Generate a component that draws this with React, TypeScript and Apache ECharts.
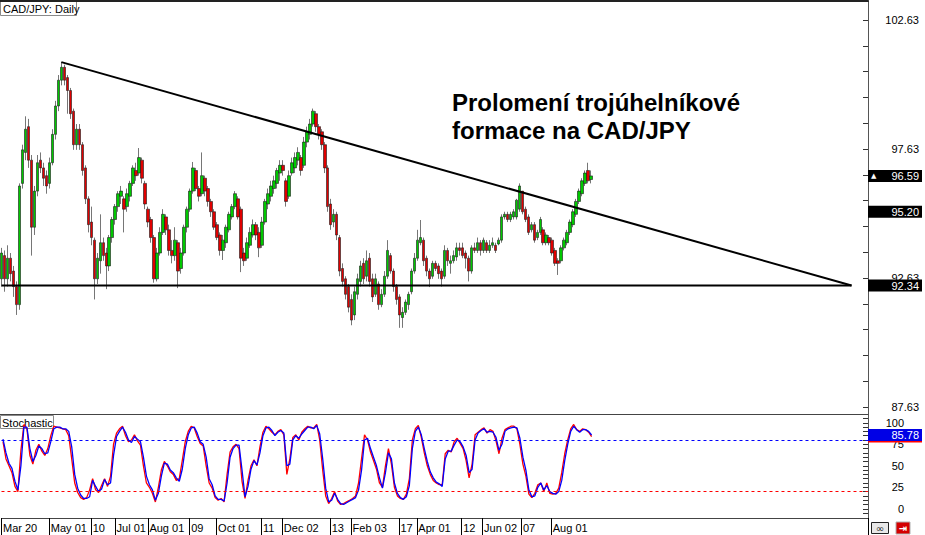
import React, { useEffect, useRef } from "react";
import * as echarts from "echarts";

// [open, close, low, high] per daily bar
const candles: [number, number, number, number][] = [
  [92.6, 93.6, 92.3, 93.8], [93.5, 92.6, 92.1, 93.7], [92.6, 93.4, 92.3, 93.9], [93.4, 92.8, 92.5, 93.6], [92.9, 92.3, 91.9, 93.1],
  [92.3, 91.6, 91.2, 92.5], [91.6, 96.2, 91.4, 96.3], [96.3, 97.6, 96.1, 97.8], [97.5, 98.4, 97.2, 98.9], [98.5, 97.2, 96.9, 98.8],
  [97.2, 94.6, 93.5, 97.4], [94.6, 96.0, 94.3, 96.2], [96.0, 97.1, 95.8, 97.4], [97.2, 96.9, 96.7, 97.5], [96.9, 96.5, 96.2, 97.1],
  [96.6, 96.2, 95.9, 96.8], [96.3, 97.1, 96.1, 97.3], [97.1, 98.2, 97.0, 98.4], [98.2, 99.3, 98.0, 99.5], [99.3, 100.3, 99.1, 100.5],
  [100.3, 100.8, 100.1, 101.0], [100.8, 100.3, 100.1, 100.9], [100.4, 99.9, 99.0, 100.5], [99.9, 99.0, 98.8, 100.0], [99.1, 97.8, 97.6, 99.2],
  [97.8, 98.4, 97.6, 98.6], [98.4, 97.8, 97.6, 98.6], [97.8, 96.8, 96.6, 97.9], [96.9, 95.7, 95.5, 97.0], [95.7, 94.7, 94.4, 95.8],
  [94.8, 94.2, 93.9, 95.4], [94.1, 92.6, 91.8, 94.2], [92.6, 93.4, 92.4, 93.6], [93.3, 94.0, 92.8, 95.1], [94.0, 93.5, 93.3, 94.2],
  [93.6, 93.1, 92.2, 93.8], [93.1, 94.2, 92.9, 94.3], [94.2, 94.9, 94.0, 95.0], [94.9, 95.4, 94.7, 95.5], [95.4, 95.9, 95.2, 96.0],
  [95.8, 96.0, 95.5, 96.2], [95.7, 95.3, 94.4, 95.8], [95.4, 95.9, 95.2, 96.1], [95.8, 96.3, 95.6, 96.4], [96.3, 96.9, 96.2, 97.0],
  [96.8, 96.6, 96.4, 97.1], [96.7, 97.3, 96.6, 97.67], [97.2, 96.5, 96.3, 97.3], [96.3, 95.5, 95.3, 96.4], [95.3, 94.8, 94.6, 95.4],
  [94.9, 94.2, 94.0, 95.0], [94.2, 92.6, 92.45, 94.3], [92.6, 93.6, 92.5, 93.8], [93.6, 94.4, 93.5, 94.6], [94.4, 95.1, 94.3, 95.3],
  [95.0, 94.5, 94.3, 95.1], [94.5, 93.7, 93.5, 94.7], [93.7, 93.5, 93.2, 94.1], [93.5, 94.1, 93.3, 94.6], [94.0, 92.9, 92.24, 94.1],
  [93.0, 93.6, 92.8, 93.8], [93.6, 94.6, 93.5, 94.7], [94.6, 95.3, 94.4, 95.4], [95.3, 96.0, 95.2, 96.1], [96.0, 96.9, 95.9, 97.13],
  [96.8, 96.1, 96.0, 96.9], [96.1, 95.8, 95.6, 96.2], [95.9, 96.6, 95.8, 97.5], [96.5, 96.0, 95.8, 96.6], [96.1, 95.6, 95.4, 96.2],
  [95.6, 95.2, 95.0, 95.7], [95.2, 94.6, 94.5, 95.3], [94.7, 94.2, 94.1, 94.8], [94.3, 93.7, 93.5, 94.4], [93.7, 94.1, 93.33, 94.3],
  [94.0, 94.6, 93.8, 94.7], [94.5, 95.1, 94.4, 95.2], [95.0, 95.4, 94.9, 95.5], [95.4, 95.9, 95.3, 96.0], [95.7, 95.0, 94.9, 95.8],
  [95.3, 93.4, 92.86, 95.4], [93.6, 93.3, 93.1, 93.8], [93.4, 94.0, 93.3, 94.2], [93.9, 94.4, 93.8, 94.6], [94.3, 94.7, 94.2, 94.9],
  [94.7, 94.3, 94.1, 94.8], [94.4, 93.8, 93.44, 94.6], [93.9, 94.8, 93.8, 95.0], [94.8, 95.6, 94.7, 95.7], [95.5, 95.9, 95.3, 96.1],
  [95.8, 96.2, 95.6, 96.4], [96.1, 96.4, 95.9, 96.6], [96.3, 96.8, 96.1, 96.9], [96.7, 97.0, 96.4, 97.2], [97.0, 96.8, 96.6, 97.2],
  [96.4, 95.6, 95.4, 96.5], [95.8, 96.6, 95.7, 96.8], [96.7, 97.1, 96.6, 97.3], [96.9, 97.3, 96.7, 97.5], [97.2, 97.5, 97.0, 97.7],
  [97.3, 96.8, 96.6, 97.4], [97.0, 97.9, 96.9, 98.1], [97.9, 98.3, 97.7, 98.5], [98.2, 98.6, 98.0, 98.8], [98.6, 99.1, 98.5, 99.2],
  [99.0, 98.5, 98.3, 99.1], [98.5, 98.2, 98.0, 98.6], [98.3, 97.8, 97.6, 98.4], [97.8, 96.9, 96.7, 97.9], [96.9, 95.4, 95.2, 97.0],
  [95.5, 94.7, 94.5, 95.7], [94.8, 95.1, 94.6, 95.3], [95.1, 94.3, 94.1, 95.2], [94.2, 92.9, 92.7, 94.3], [93.0, 92.5, 92.3, 93.2],
  [92.6, 92.0, 91.8, 92.7], [92.3, 91.5, 91.3, 92.4], [91.8, 91.0, 90.8, 92.0], [91.2, 92.1, 91.0, 92.3], [92.0, 92.6, 91.8, 92.8],
  [92.5, 93.1, 92.3, 93.3], [93.2, 92.6, 92.4, 93.4], [92.7, 93.3, 92.5, 93.7], [93.4, 92.5, 92.3, 93.6], [92.6, 91.9, 91.7, 92.8],
  [92.0, 92.6, 91.9, 92.8], [92.4, 91.6, 91.4, 92.5], [91.6, 92.0, 91.5, 92.2], [92.0, 92.7, 91.9, 92.9], [92.7, 93.7, 92.6, 94.1],
  [93.5, 92.9, 92.8, 93.6], [92.9, 92.3, 92.1, 93.0], [92.3, 91.8, 91.6, 92.4], [91.9, 91.2, 90.7, 92.0], [91.1, 91.3, 90.7, 91.5],
  [91.3, 91.7, 91.2, 91.8], [91.6, 92.0, 91.4, 92.1], [92.1, 92.9, 92.0, 93.0], [92.9, 93.4, 92.8, 93.6], [93.4, 94.1, 93.3, 94.5],
  [94.0, 94.2, 93.9, 94.88], [94.1, 93.3, 93.1, 94.2], [93.4, 92.9, 92.7, 93.5], [92.9, 92.6, 92.28, 93.0], [92.7, 93.2, 92.6, 93.3],
  [93.2, 93.0, 92.9, 93.3], [93.1, 92.8, 92.6, 93.2], [92.9, 92.6, 92.3, 93.0], [92.7, 93.7, 92.6, 93.9], [93.7, 93.3, 93.1, 93.8],
  [93.2, 93.3, 92.8, 93.5], [93.3, 93.5, 93.2, 93.7], [93.45, 93.8, 93.3, 94.0], [93.8, 93.7, 93.5, 94.0], [93.8, 93.5, 93.4, 94.0],
  [93.6, 93.4, 93.0, 93.7], [93.4, 92.9, 92.5, 93.5], [92.9, 93.8, 92.8, 93.9], [93.8, 93.7, 93.6, 94.0], [93.7, 94.0, 93.6, 94.2],
  [94.0, 93.7, 93.5, 94.1], [93.7, 94.1, 93.6, 94.2], [94.0, 93.7, 93.6, 94.1], [93.7, 93.9, 93.6, 94.1], [93.9, 94.0, 93.8, 94.2],
  [93.9, 93.7, 93.6, 94.0], [93.95, 94.1, 93.9, 94.2], [94.1, 95.0, 94.0, 95.1], [95.0, 95.1, 94.9, 95.2], [95.1, 94.9, 94.8, 95.2],
  [94.9, 95.1, 94.8, 95.2], [95.0, 95.2, 94.9, 95.3], [95.0, 95.65, 94.9, 95.7], [95.3, 96.2, 95.2, 96.3], [96.0, 95.2, 95.1, 96.0],
  [95.3, 94.9, 94.8, 95.4], [95.0, 94.4, 94.3, 95.1], [94.5, 94.7, 94.4, 94.8], [94.7, 94.1, 94.0, 94.8], [94.2, 94.4, 94.1, 94.5],
  [94.4, 94.9, 94.3, 95.0], [94.5, 94.0, 93.9, 94.6], [94.0, 94.3, 93.9, 94.4], [94.2, 94.0, 93.9, 94.3], [94.1, 93.6, 93.5, 94.2],
  [93.7, 93.2, 93.1, 93.8], [93.3, 93.2, 92.75, 93.4], [93.3, 93.8, 93.2, 93.9], [93.8, 94.1, 93.7, 94.2], [94.0, 94.4, 93.9, 94.5],
  [94.4, 94.8, 94.3, 94.9], [94.7, 95.2, 94.6, 95.3], [95.1, 95.6, 95.0, 95.7], [95.6, 96.0, 95.5, 96.1], [95.9, 96.4, 95.8, 96.5],
  [96.3, 96.7, 96.2, 96.8], [96.8, 96.4, 96.3, 97.1], [96.45, 96.59, 96.3, 96.8],
];

// Stochastic main line (red) and signal line (blue)
const stochMain = [
  78, 58, 50, 42, 26, 20, 68, 98, 93, 62,
  52, 68, 75, 67, 62, 70, 85, 96, 95, 94,
  93, 92, 85, 58, 30, 19, 13, 11, 13, 22,
  35, 22, 19, 27, 35, 26, 38, 75, 88, 93,
  96, 85, 78, 80, 86, 79, 74, 50, 30, 25,
  18, 8, 25, 45, 55, 50, 43, 40, 33, 35,
  56, 78, 90, 96, 94, 84, 76, 73, 50, 30,
  24, 13, 10, 12, 8, 40, 66, 72, 75, 70,
  32, 12, 33, 50, 57, 50, 72, 89, 96, 93,
  89, 86, 90, 92, 86, 40, 58, 83, 86, 80,
  89, 93, 96, 94, 94, 98, 80, 45, 15, 6,
  12, 20, 9, 5, 6, 8, 10, 12, 15, 30,
  58, 86, 80, 66, 56, 46, 30, 25, 50, 70,
  52, 25, 15, 12, 11, 17, 35, 80, 93, 97,
  83, 65, 50, 40, 33, 30, 28, 28, 64, 68,
  66, 78, 82, 76, 70, 56, 36, 52, 86, 89,
  92, 94, 88, 92, 90, 79, 64, 82, 92, 94,
  96, 96, 93, 75, 52, 38, 17, 13, 18, 28,
  30, 20, 30, 18, 17, 18, 24, 42, 64, 80,
  93, 98, 92, 90, 93, 92, 89, 84,
];
const stochSignal = [
  81, 65, 53, 47, 32, 22, 50, 95, 95, 70,
  55, 62, 73, 70, 64, 65, 78, 93, 95, 95,
  93, 93, 90, 72, 40, 24, 16, 12, 12, 14,
  33, 26, 20, 23, 34, 28, 30, 62, 84, 90,
  95, 89, 80, 77, 84, 81, 78, 60, 38, 28,
  22, 10, 18, 38, 53, 52, 45, 42, 36, 32,
  46, 70, 86, 94, 95, 88, 78, 75, 60, 35,
  28, 15, 11, 11, 9, 30, 60, 70, 74, 74,
  45, 14, 26, 46, 56, 51, 65, 85, 94, 95,
  91, 85, 89, 91, 88, 50, 52, 80, 85, 82,
  87, 91, 95, 95, 93, 97, 87, 58, 24, 8,
  10, 18, 11, 6, 5, 7, 9, 11, 13, 22,
  45, 80, 82, 70, 60, 50, 36, 24, 42, 65,
  58, 30, 18, 13, 11, 14, 27, 70, 90, 95,
  86, 70, 55, 43, 36, 31, 29, 26, 58, 67,
  67, 74, 80, 78, 72, 62, 42, 46, 80, 88,
  91, 93, 89, 90, 89, 83, 68, 75, 90, 93,
  94, 95, 94, 82, 60, 45, 22, 14, 15, 25,
  30, 22, 27, 20, 18, 17, 20, 33, 56, 75,
  90, 96, 92, 89, 92, 92, 90, 85.78,
];

const xLabelIndex = [0, 16, 30, 38, 49, 63, 72, 87, 94, 110, 117, 133, 139, 154, 161, 174, 184];
const xLabelText = ["Mar 20", "May 01", "10", "Jul 01", "Aug 01", "09", "Oct 01", "11", "Dec 02", "13", "Feb 03", "17", "Apr 01", "12", "Jun 02", "07", "Aug 01"];

const priceTicks = [87.63, 88.63, 89.63, 90.63, 91.63, 92.63, 93.63, 94.63, 95.63, 96.63, 97.63, 98.63, 99.63, 100.63, 101.63, 102.63];
const priceLabels = [87.63, 92.63, 97.63, 102.63];
const stochTicks = [-5, 0, 5, 10, 15, 20, 25, 30, 35, 40, 45, 50, 55, 60, 65, 70, 75, 80, 85, 90, 95, 100, 105];
const stochLabels = [0, 25, 50, 75, 100];
const stochLevels = { upper: 80, lower: 20 };

const supportLevel = 92.34;
const trendStart: [number, number] = [20, 101.0];
const trendEnd: [number, number] = [284, 92.34];
const trendAtLast = 95.2;

const CATEGORY_COUNT = 290;
const FONT = '"Liberation Sans", Arial, sans-serif';

export default function App() {
  const ref = useRef<HTMLDivElement>(null);

  useEffect(() => {
    if (!ref.current) return;
    const chart = echarts.init(ref.current, undefined, { renderer: "svg" });
    const cats = Array.from({ length: CATEGORY_COUNT }, (_, i) => String(i));
    const labelMap: Record<number, string> = {};
    xLabelIndex.forEach((idx, k) => (labelMap[idx] = xLabelText[k]));
    const isLabel = (i: number) => labelMap[i] !== undefined;
    const lastClose = candles[candles.length - 1][1];
    const lastMain = stochMain[stochMain.length - 1];
    const lastSignal = stochSignal[stochSignal.length - 1];

    const hiddenCat = (extra: any) => ({
      type: "category",
      data: cats,
      boundaryGap: true,
      axisTick: { show: false },
      axisLabel: { show: false },
      splitLine: { show: false },
      ...extra,
    });

    const boxLabel = (bg: string) => ({
      align: "right",
      margin: 54,
      width: 48,
      padding: [1, 3, 0, 3],
      backgroundColor: bg,
      color: "#fff",
      fontSize: 11,
      fontFamily: FONT,
    });

    const option: any = {
      animation: false,
      backgroundColor: "#ffffff",
      grid: [
        { left: 0, top: 1, width: 871, height: 413 },
        { left: 0, top: 414, width: 871, height: 104 },
      ],
      xAxis: [
        hiddenCat({ gridIndex: 0, position: "bottom", axisLine: { show: true, onZero: false, lineStyle: { color: "#444", width: 1 } } }),
        hiddenCat({ gridIndex: 0, position: "top", axisLine: { show: true, onZero: false, lineStyle: { color: "#222", width: 2 } } }),
        {
          type: "category",
          gridIndex: 1,
          data: cats,
          position: "bottom",
          boundaryGap: true,
          axisLine: { show: true, onZero: false, lineStyle: { color: "#444", width: 1 } },
          axisTick: { show: true, interval: (i: number) => isLabel(i), length: 17, alignWithLabel: false, lineStyle: { color: "#000" } },
          axisLabel: {
            show: true,
            interval: (i: number) => isLabel(i),
            formatter: (_v: string, i: number) => labelMap[i] || "",
            align: "left",
            margin: 4,
            fontSize: 11,
            color: "#000",
            fontFamily: FONT,
          },
          splitLine: { show: false },
        },
      ],
      yAxis: [
        {
          type: "value",
          gridIndex: 0,
          position: "right",
          min: 87.36,
          max: 103.37,
          axisLine: { show: true, lineStyle: { color: "#555" } },
          axisTick: { show: true, inside: true, length: 5, customValues: priceTicks, lineStyle: { color: "#333" } },
          axisLabel: { customValues: priceLabels, formatter: (v: number) => v.toFixed(2), align: "right", margin: 51, fontSize: 11, color: "#000", fontFamily: FONT },
          splitLine: { show: false },
        },
        {
          type: "value",
          gridIndex: 0,
          position: "right",
          min: 87.36,
          max: 103.37,
          axisLine: { show: false },
          axisTick: { show: false },
          splitLine: { show: false },
          axisLabel: {
            ...boxLabel("#000"),
            customValues: [supportLevel, trendAtLast, lastClose],
            formatter: (v: number) =>
              Math.abs(v - lastClose) < 1e-6 ? `{tri|▲}{val|${v.toFixed(2)}}` : `{val|${v.toFixed(2)}}`,
            rich: {
              tri: { color: "#fff", fontSize: 7, width: 18, align: "left", fontFamily: "DejaVu Sans" },
              val: { color: "#fff", fontSize: 11, fontFamily: FONT },
            },
          },
        },
        {
          type: "value",
          gridIndex: 1,
          position: "right",
          min: -10.7,
          max: 110.2,
          axisLine: { show: true, lineStyle: { color: "#555" } },
          axisTick: { show: true, inside: true, length: 5, customValues: stochTicks, lineStyle: { color: "#333" } },
          axisLabel: { customValues: stochLabels, formatter: (v: number) => String(v), align: "right", margin: 36, fontSize: 11, color: "#000", fontFamily: FONT },
          splitLine: { show: false },
        },
        {
          type: "value",
          gridIndex: 1,
          position: "right",
          min: -10.7,
          max: 110.2,
          axisLine: { show: false },
          axisTick: { show: false },
          splitLine: { show: false },
          axisLabel: { ...boxLabel("#ff0000"), customValues: [lastMain], formatter: (v: number) => v.toFixed(2) },
        },
        {
          type: "value",
          gridIndex: 1,
          position: "right",
          min: -10.7,
          max: 110.2,
          axisLine: { show: false },
          axisTick: { show: false },
          splitLine: { show: false },
          axisLabel: { ...boxLabel("#0000e6"), customValues: [lastSignal], formatter: (v: number) => v.toFixed(2) },
        },
      ],
      series: [
        {
          type: "candlestick",
          xAxisIndex: 0,
          yAxisIndex: 0,
          data: candles,
          barWidth: 3,
          itemStyle: { color: "#00c800", color0: "#e00000", borderColor: "#1a1a1a", borderColor0: "#1a1a1a", borderWidth: 0.6 },
          silent: true,
        },
        {
          type: "line",
          xAxisIndex: 0,
          yAxisIndex: 0,
          data: [trendStart, trendEnd],
          symbol: "none",
          lineStyle: { color: "#000", width: 2 },
          silent: true,
        },
        {
          type: "line",
          xAxisIndex: 0,
          yAxisIndex: 0,
          data: [[0, supportLevel], [trendEnd[0], supportLevel]],
          symbol: "none",
          lineStyle: { color: "#000", width: 2 },
          silent: true,
        },
        {
          type: "line",
          xAxisIndex: 2,
          yAxisIndex: 2,
          data: stochMain,
          symbol: "none",
          lineStyle: { color: "#ff0000", width: 1.3 },
          silent: true,
          markLine: {
            symbol: "none",
            silent: true,
            label: { show: false },
            data: [
              { yAxis: stochLevels.upper, lineStyle: { color: "#0000ff", type: [3, 3], width: 1 } },
              { yAxis: stochLevels.lower, lineStyle: { color: "#ff0000", type: [3, 3], width: 1 } },
            ],
          },
        },
        {
          type: "line",
          xAxisIndex: 2,
          yAxisIndex: 2,
          data: stochSignal,
          symbol: "none",
          lineStyle: { color: "#0000ff", width: 1.3 },
          silent: true,
        },
      ],
      graphic: [
        {
          type: "text",
          x: 452,
          y: 88,
          z: 100,
          style: {
            text: "Prolomení trojúhelníkové\nformace na CAD/JPY",
            fontFamily: FONT,
            fontSize: 24,
            fontWeight: "bold",
            lineHeight: 28,
            fill: "#000",
            verticalAlign: "top",
            align: "left",
          },
        },
        {
          type: "group",
          x: 0,
          y: 1,
          z: 100,
          children: [
            { type: "rect", shape: { x: 0.5, y: 0.5, width: 76, height: 14 }, style: { fill: "#fff", stroke: "#8a8a8a", lineWidth: 1 } },
            { type: "text", x: 3, y: 8, style: { text: "CAD/JPY: Daily", fontFamily: FONT, fontSize: 11, fill: "#000", verticalAlign: "middle" } },
          ],
        },
        {
          type: "group",
          x: 0,
          y: 415,
          z: 100,
          children: [
            { type: "rect", shape: { x: 0.5, y: 0.5, width: 53, height: 13 }, style: { fill: "#fff", stroke: "#8a8a8a", lineWidth: 1 } },
            { type: "text", x: 2, y: 7.5, style: { text: "Stochastic", fontFamily: FONT, fontSize: 11, fill: "#000", verticalAlign: "middle" } },
          ],
        },
        {
          type: "group",
          x: 871,
          y: 522,
          z: 100,
          children: [
            { type: "rect", shape: { x: 0.5, y: 0.5, width: 17, height: 11 }, style: { fill: "#e8e8e8", stroke: "#222", lineWidth: 1 } },
            { type: "text", x: 9, y: 6, style: { text: "∞", fontFamily: "DejaVu Sans", fontSize: 10, fill: "#222", align: "center", verticalAlign: "middle" } },
            { type: "rect", shape: { x: 25, y: 0, width: 14, height: 12 }, style: { fill: "#d40000", stroke: "#b0b0b0", lineWidth: 1 } },
            { type: "text", x: 32, y: 6, style: { text: "⇥", fontFamily: "DejaVu Sans", fontSize: 10, fontWeight: "bold", fill: "#fff", align: "center", verticalAlign: "middle" } },
          ],
        },
      ],
    };

    chart.setOption(option);
    return () => chart.dispose();
  }, []);

  return <div ref={ref} style={{ width: 925, height: 535, position: "absolute", left: 0, top: 0 }} />;
}
